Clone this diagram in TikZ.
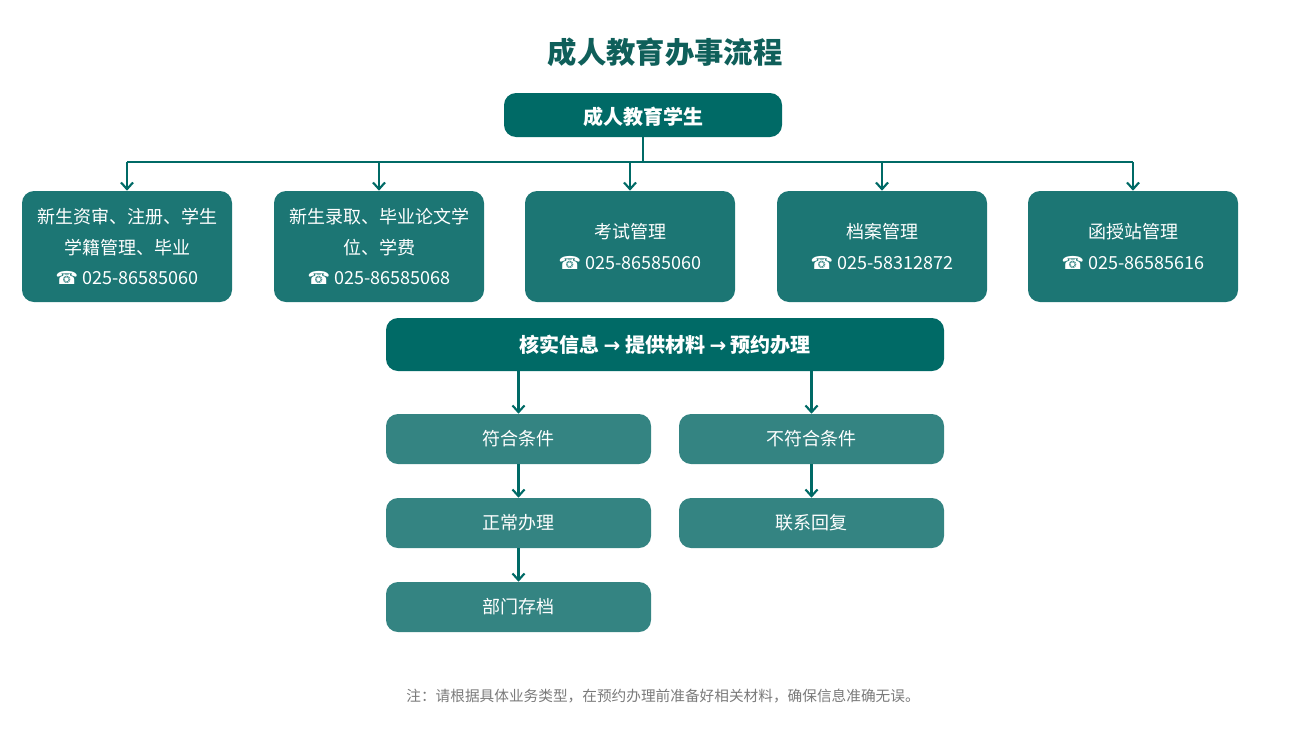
\documentclass[tikz,border=0pt]{standalone}
\usepackage{fontspec}
\setmainfont{Noto Sans CJK SC}
\newfontfamily\symf{DejaVu Sans}
\usetikzlibrary{arrows.meta}
\definecolor{hdr}{HTML}{006A66}
\definecolor{topc}{HTML}{1C7674}
\definecolor{low}{HTML}{348482}
\definecolor{ttl}{HTML}{0F5F5A}
\definecolor{note}{HTML}{7A7A7A}
\begin{document}
\begin{tikzpicture}[x=0.75pt,y=-0.75pt,
  box/.style={rounded corners=9pt,text=white,align=center,inner sep=0pt},
  arr/.style={draw=hdr,line width=1.6pt,-{Straight Barb[length=5pt,width=9pt,line width=1.6pt]}}]
\useasboundingbox (0,0) rectangle (1309,732);
\node[text=ttl,font=\fontsize{22}{26}\selectfont\bfseries] (title) at (665,52) {成人教育办事流程};
\path[box,fill=hdr] (504,93) rectangle (782,137);
\node[text=white,font=\fontsize{15}{18}\selectfont\bfseries] (head) at (643,117) {成人教育学生};
\coordinate (hb) at (643,137);
\coordinate (hl) at (643,162);
\draw[hdr,line width=1.6pt] (hb) -- (hl);
\draw[hdr,line width=1.6pt] (127,162) -- (1133,162);
\foreach \x/\n/\t in {
 127/a/{新生资审、注册、学生\\学籍管理、毕业\\{\symf ☎} 025-86585060},
 379/b/{新生录取、毕业论文学\\位、学费\\{\symf ☎} 025-86585068},
 630/c/{考试管理\\{\symf ☎} 025-86585060},
 882/d/{档案管理\\{\symf ☎} 025-58312872},
 1133/e/{函授站管理\\{\symf ☎} 025-86585616}}{
  \node[box,fill=topc,minimum width=210*0.75pt,minimum height=111*0.75pt,font=\fontsize{13.5}{23}\selectfont] (\n) at (\x,246.5) {\t};
  \coordinate (\n t) at (\x,162);
  \draw[arr] (\n t) -- (\n.north);
}
\node[box,fill=hdr,minimum width=558*0.75pt,minimum height=53*0.75pt,font=\fontsize{15}{18}\selectfont\bfseries] (v) at (665,344.5) {核实信息 {\symf →} 提供材料 {\symf →} 预约办理};
\foreach \x/\y/\n/\t in {518.5/439/l1/符合条件, 518.5/523/l2/正常办理, 518.5/607/l3/部门存档, 811.5/439/r1/不符合条件, 811.5/523/r2/联系回复}{
  \node[box,fill=low,minimum width=265*0.75pt,minimum height=50*0.75pt,font=\fontsize{13.5}{16}\selectfont] (\n) at (\x,\y) {\t};
}
\draw[arr] (v.south -| l1) -- (l1);
\draw[arr] (v.south -| r1) -- (r1);
\draw[arr] (l1) -- (l2);
\draw[arr] (l2) -- (l3);
\draw[arr] (r1) -- (r2);
\node[text=note,font=\fontsize{11}{13}\selectfont] (n) at (663,696) {注：请根据具体业务类型，在预约办理前准备好相关材料，确保信息准确无误。};
\end{tikzpicture}
\end{document}
